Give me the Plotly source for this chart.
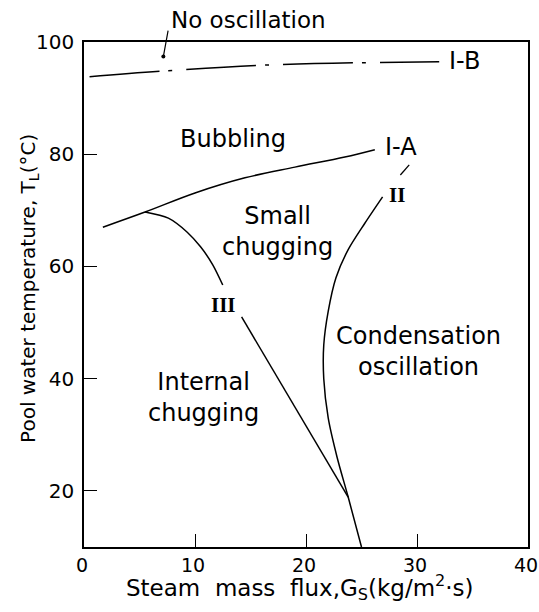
import plotly.graph_objects as go

# Regime boundaries: steam mass flux G_S (kg/m2 s) vs pool water temperature T_L (degC)
ib_g = [0.5, 7.0, 16.5, 32.0]
ib_t = [93.8, 94.8, 95.9, 96.5]

ia_g = [1.7, 5.5, 10.0, 14.5, 19.0, 23.5, 26.2]
ia_t = [67.0, 69.7, 73.1, 75.8, 77.7, 79.5, 80.8]

iii_upper_g = [5.5, 7.6, 9.3, 10.5, 11.6, 12.5]
iii_upper_t = [69.7, 68.6, 66.1, 63.5, 60.3, 56.7]
iii_lower_g = [14.2, 23.8]
iii_lower_t = [51.0, 18.9]

ii_g = [26.9, 25.3, 23.8, 22.7, 22.0, 21.6, 21.6, 22.0, 22.8, 23.8, 25.0]
ii_t = [72.4, 67.7, 63.0, 58.0, 52.0, 46.0, 40.0, 33.0, 26.0, 18.9, 10.0]

ii_ext_g = [28.5, 29.3]
ii_ext_t = [76.3, 78.1]

# Region names and boundary labels
region_names = ["Bubbling", "Small<br>chugging", "Internal<br>chugging", "Condensation<br>oscillation"]
region_g = [13.4, 17.4, 10.8, 30.1]
region_t = [82.7, 66.3, 36.7, 44.8]

curve_names = ["I-B", "I-A"]
curve_g = [34.3, 28.6]
curve_t = [96.6, 81.3]

roman_names = ["II", "III"]
roman_g = [28.2, 12.6]
roman_t = [72.7, 53.1]

no_osc_text = "No oscillation"
no_osc_g = 14.8
no_osc_tail = (7.6, 102.3)
no_osc_point = (7.15, 97.4)

x_ticks = [0, 10, 20, 30, 40]
y_ticks = [20, 40, 60, 80, 100]

x_title = "Steam\u00a0\u00a0mass\u00a0\u00a0flux,G<sub>S</sub>(kg/m<sup>2</sup>\u00b7s)"
y_title = "Pool water temperature, T<sub>L</sub>(\u00b0C)"

FONT = "DejaVu Sans"
LINE = dict(color="black", width=1.5)

fig = go.Figure()

fig.add_trace(go.Scatter(x=ib_g, y=ib_t, mode="lines", line_shape="spline",
                         line=dict(color="black", width=1.5, dash="70px,9px,4px,14px")))
fig.add_trace(go.Scatter(x=ia_g, y=ia_t, mode="lines", line_shape="spline", line=LINE))
fig.add_trace(go.Scatter(x=iii_upper_g, y=iii_upper_t, mode="lines", line_shape="spline",
                         line=dict(color="black", width=1.5, smoothing=0.8)))
fig.add_trace(go.Scatter(x=iii_lower_g, y=iii_lower_t, mode="lines", line=LINE))
fig.add_trace(go.Scatter(x=ii_g, y=ii_t, mode="lines", line_shape="spline",
                         line=dict(color="black", width=1.5, smoothing=0.8)))
fig.add_trace(go.Scatter(x=ii_ext_g, y=ii_ext_t, mode="lines", line=dict(color="black", width=1.3)))
fig.add_trace(go.Scatter(x=[no_osc_point[0]], y=[no_osc_point[1]], mode="markers",
                         marker=dict(color="black", size=4)))

annotations = []
for name, g, t in zip(region_names, region_g, region_t):
    annotations.append(dict(x=g, y=t, text=name, showarrow=False,
                            font=dict(family=FONT, size=24, color="black")))
for name, g, t in zip(curve_names, curve_g, curve_t):
    annotations.append(dict(x=g, y=t, text=name, showarrow=False,
                            font=dict(family=FONT, size=24, color="black")))
for name, g, t in zip(roman_names, roman_g, roman_t):
    annotations.append(dict(x=g, y=t, text="<b>" + name + "</b>", showarrow=False,
                            font=dict(family="Liberation Serif", size=21, color="black")))
# label sits above the plotting area, so its height is given as a fraction of the paper
annotations.append(dict(x=no_osc_g, xref="x", y=1.0436, yref="paper", yanchor="middle",
                        text=no_osc_text, showarrow=False,
                        font=dict(family=FONT, size=23, color="black")))
annotations.append(dict(x=no_osc_point[0], y=no_osc_point[1], ax=no_osc_tail[0], ay=no_osc_tail[1],
                        axref="x", ayref="y", text="", showarrow=True, arrowhead=0,
                        arrowwidth=1.2, arrowcolor="black", standoff=0, startstandoff=0))
# axis titles
annotations.append(dict(x=-0.124, xref="paper", y=0.513, yref="paper",
                        xanchor="center", yanchor="middle", textangle=-90,
                        text=y_title, showarrow=False,
                        font=dict(family=FONT, size=20, color="black")))
annotations.append(dict(x=0.4865, xref="paper", y=-0.081, yref="paper",
                        xanchor="center", yanchor="middle",
                        text=x_title, showarrow=False,
                        font=dict(family=FONT, size=23, color="black")))

fig.update_layout(
    width=539, height=612,
    margin=dict(l=84, r=11, t=42, b=65, autoexpand=False),
    paper_bgcolor="white", plot_bgcolor="white",
    showlegend=False,
    font=dict(family=FONT, color="black"),
    annotations=annotations,
)

fig.update_xaxes(
    range=[0, 40], tickvals=x_ticks, ticks="inside", ticklen=13, tickwidth=1.3, tickcolor="black",
    showline=True, linewidth=1.5, linecolor="black", mirror=True, automargin=False,
    showgrid=False, zeroline=False, tickfont=dict(family=FONT, size=19),
    ticklabeloverflow="allow", ticklabelshift=-2,
)
fig.update_yaxes(
    range=[10, 100], tickvals=y_ticks, ticks="inside", ticklen=13, tickwidth=1.3, tickcolor="black",
    showline=True, linewidth=1.5, linecolor="black", mirror=True, automargin=False,
    showgrid=False, zeroline=False, tickfont=dict(family=FONT, size=20),
    ticklabelstandoff=4, ticklabeloverflow="allow",
)

fig.write_html("out.html")
